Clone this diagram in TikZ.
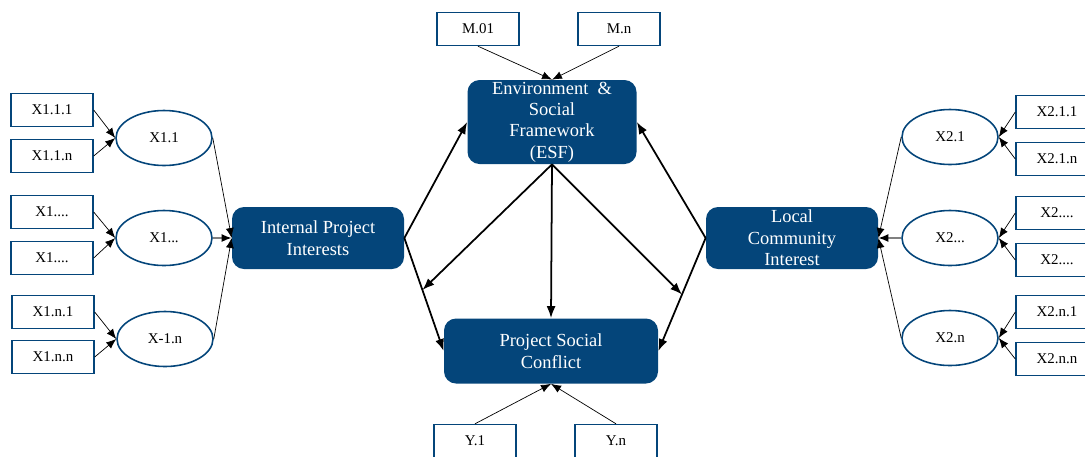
\documentclass[tikz,border=0pt]{standalone}
\usepackage{fontspec}
\setmainfont{Liberation Serif}
\usetikzlibrary{shapes.geometric,arrows.meta,calc}
\definecolor{esfblue}{RGB}{4,69,122}
\begin{document}
\begin{tikzpicture}[x=0.2mm, y=-0.2mm,
    indicator/.style ={rectangle, draw=esfblue, line width=0.8pt, minimum width=16.4mm,
      minimum height=6.6mm, inner sep=0pt, font=\fontsize{8.5}{10}\selectfont},
    dimension/.style ={ellipse, draw=esfblue, line width=0.9pt, minimum width=19.2mm,
      minimum height=11mm, inner sep=0pt, font=\fontsize{8.5}{10}\selectfont},
    construct/.style ={rectangle, rounded corners=2.4mm, fill=esfblue, text=white,
      align=center, inner sep=0pt, font=\fontsize{10.5}{12.2}\selectfont},
    thinlink/.style ={-{Latex[length=2mm,width=1.6mm]}, line width=0.4pt},
    greylink/.style ={-{Latex[length=2mm,width=1.6mm,black]}, gray, line width=0.8pt},
    mainlink/.style ={-{Latex[length=2.4mm,width=1.8mm]}, line width=1pt}]
   \useasboundingbox (0,0) rectangle (1085,456);
   % constructs
   \node[construct, minimum width=34.4mm, minimum height=12.4mm] (IPI) at (318,238) {Internal Project\\Interests};
   \node[construct, minimum width=33.8mm, minimum height=16.8mm] (ESF) at (552,122) {Environment \ \&\\Social\\Framework\\(ESF)};
   \node[construct, minimum width=42.8mm, minimum height=13mm] (PSC) at (551,351) {Project Social\\Conflict};
   \node[construct, minimum width=34.4mm, minimum height=12.4mm] (LCI) at (792,238) {Local\\Community\\Interest};
   % left side
   \node[dimension] (X11) at (164,138) {X1.1};
   \node[dimension] (X1d) at (164,238) {X1...};
   \node[dimension] (X1n) at (165,339) {X-1.n};
   \node[indicator] (X111) at (52,110) {X1.1.1};
   \node[indicator] (X11n) at (52,156) {X1.1.n};
   \node[indicator] (X1da) at (52,212) {X1....};
   \node[indicator] (X1db) at (52,258) {X1....};
   \node[indicator] (X1n1) at (53,312) {X1.n.1};
   \node[indicator] (X1nn) at (53,357) {X1.n.n};
   % right side
   \node[dimension] (X21) at (950,137) {X2.1};
   \node[dimension] (X2d) at (950,238) {X2...};
   \node[dimension] (X2n) at (950,338) {X2.n};
   \node[indicator] (X211) at (1057,112) {X2.1.1};
   \node[indicator] (X21n) at (1057,159) {X2.1.n};
   \node[indicator] (X2da) at (1057,213) {X2....};
   \node[indicator] (X2db) at (1057,260) {X2....};
   \node[indicator] (X2n1) at (1057,312) {X2.n.1};
   \node[indicator] (X2nn) at (1057,359) {X2.n.n};
   % top and bottom
   \node[indicator] (M01) at (478,29) {M.01};
   \node[indicator] (Mn) at (619,29) {M.n};
   \node[indicator] (Y1) at (475,441) {Y.1};
   \node[indicator] (Yn) at (616,441) {Y.n};
   \coordinate (L) at ($(IPI.east)!0.46!(PSC.west)$);
   \coordinate (R) at ($(LCI.west)!0.5!(PSC.east)$);
   % indicators
   \draw[thinlink] (X111.east) to (X11.west);
   \draw[thinlink] (X11n.east) to (X11.west);
   \draw[thinlink] (X1da.east) to (X1d.west);
   \draw[thinlink] (X1db.east) to (X1d.west);
   \draw[thinlink] (X1n1.east) to (X1n.west);
   \draw[thinlink] (X1nn.east) to (X1n.west);
   \draw[thinlink] (X211.west) to (X21.east);
   \draw[thinlink] (X21n.west) to (X21.east);
   \draw[thinlink] (X2da.west) to (X2d.east);
   \draw[thinlink] (X2db.west) to (X2d.east);
   \draw[thinlink] (X2n1.west) to (X2n.east);
   \draw[thinlink] (X2nn.west) to (X2n.east);
   \draw[thinlink] (M01.south) to (ESF.north);
   \draw[thinlink] (Mn.south) to (ESF.north);
   \draw[thinlink] (Y1.north) to (PSC.south);
   \draw[thinlink] (Yn.north) to (PSC.south);
   \draw[thinlink] (X11.east) to (IPI.west);
   \draw[greylink] (X1d.east) to (IPI.west);
   \draw[thinlink] (X1n.east) to (IPI.west);
   \draw[thinlink] (X21.west) to (LCI.east);
   \draw[greylink] (X2d.west) to (LCI.east);
   \draw[thinlink] (X2n.west) to (LCI.east);
   % structural paths
   \draw[mainlink] (IPI.east) to (ESF.west);
   \draw[mainlink] (IPI.east) to (PSC.west);
   \draw[mainlink] (LCI.west) to (ESF.east);
   \draw[mainlink] (LCI.west) to (PSC.east);
   \draw[mainlink] (ESF.south) to (PSC.north);
   \draw[mainlink] (ESF.south) to (L);
   \draw[mainlink] (ESF.south) to (R);
\end{tikzpicture}
\end{document}
